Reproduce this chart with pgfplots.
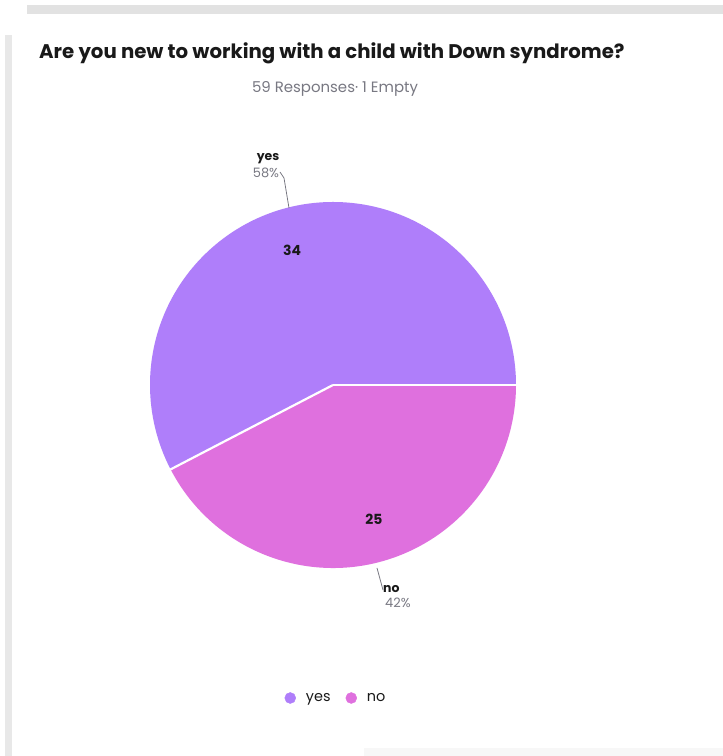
\documentclass[border=0pt]{standalone}
\usepackage{pgfplots}
\pgfplotsset{compat=1.18}
\usepackage{pgfplotstable}
\usepackage{fontspec}
\setmainfont{Poppins}
\definecolor{yescol}{RGB}{175,126,250}
\definecolor{nocol}{RGB}{223,112,222}
\definecolor{frameA}{RGB}{226,226,226}
\definecolor{frameB}{RGB}{232,232,232}
\definecolor{frameC}{RGB}{247,247,247}
\definecolor{subgray}{RGB}{120,120,130}
\definecolor{txt}{RGB}{25,25,25}

\pgfplotstableread{
label value
yes 34
no 25
}\pietable

\begin{document}
\begin{tikzpicture}
\pgfplotstablegetelem{0}{value}\of\pietable \let\vyes\pgfplotsretval
\pgfplotstablegetelem{1}{value}\of\pietable \let\vno\pgfplotsretval
\pgfmathsetmacro{\tot}{\vyes+\vno}
\pgfmathsetmacro{\ayes}{360*\vyes/\tot}
\pgfmathtruncatemacro{\pyes}{round(100*\vyes/\tot)}
\pgfmathtruncatemacro{\pno}{round(100*\vno/\tot)}
\begin{axis}[
  x=1bp, y=1bp, xmin=0, xmax=723, ymin=0, ymax=756,
  hide axis, clip=false, anchor=origin, at={(0,0)},
  legend columns=2,
  legend style={at={(axis cs:336,58)}, anchor=center, draw=none, fill=none,
    font=\fontsize{14.5}{16}\selectfont, text=txt,
    /tikz/every even column/.append style={column sep=13bp},
    inner sep=0pt},
  legend cell align=left,
  legend image code/.code={\fill[#1] (0bp,0bp) circle (5.5bp); \path (-5.5bp,0) (13.5bp,0);},
]
% background and frame
\fill[white] (axis cs:0,0) rectangle (axis cs:723,756);
\fill[frameA] (axis cs:27,742) rectangle (axis cs:723,751);
\fill[frameB] (axis cs:5,0) rectangle (axis cs:12,721);
\fill[frameC] (axis cs:364,0) rectangle (axis cs:723,8);

% pie slices from the table values
\fill[yescol] (axis cs:333,371) -- ++(0:183bp) arc[start angle=0, end angle=\ayes, radius=183bp] -- cycle;
\fill[nocol] (axis cs:333,371) -- ++(\ayes:183bp) arc[start angle=\ayes, end angle=360, radius=183bp] -- cycle;
\draw[white, line width=2.2bp] (axis cs:333,371) -- ++(0:184bp);
\draw[white, line width=2.2bp] (axis cs:333,371) -- ++(\ayes:184bp);

% title
\node[anchor=base west, text=txt, font=\bfseries\fontsize{19.8}{22}\selectfont, inner sep=0pt] at (axis cs:39,697) {Are you new to working with a child with Down syndrome?};
\node[anchor=base, text=subgray, font=\fontsize{15}{18}\selectfont, inner sep=0pt] at (axis cs:335,663) {59 Responses· 1 Empty};

% slice labels
\node[anchor=base, text=txt, font=\bfseries\fontsize{12.5}{14}\selectfont, inner sep=0pt] at (axis cs:268,595) {yes};
\node[anchor=base, text=subgray, font=\fontsize{13}{14}\selectfont, inner sep=0pt] at (axis cs:266,578) {\pyes\%};
\draw[subgray, line width=0.8bp] (axis cs:280,584) -- (axis cs:284,578) -- (axis cs:289,548);

\node[anchor=base west, text=txt, font=\bfseries\fontsize{12.5}{14}\selectfont, inner sep=0pt] at (axis cs:383,163) {no};
\node[anchor=base west, text=subgray, font=\fontsize{13}{14}\selectfont, inner sep=0pt] at (axis cs:385,148) {\pno\%};
\draw[subgray, line width=0.8bp] (axis cs:377,188) -- (axis cs:383,166);

% counts
\node[text=txt, font=\bfseries\fontsize{14}{16}\selectfont, inner sep=0pt] at (axis cs:292,506) {\vyes};
\node[text=txt, font=\bfseries\fontsize{14}{16}\selectfont, inner sep=0pt] at (axis cs:374,237) {\vno};

\addlegendimage{yescol}
\addlegendentry{yes}
\addlegendimage{nocol}
\addlegendentry{no}
\end{axis}
\end{tikzpicture}
\end{document}
